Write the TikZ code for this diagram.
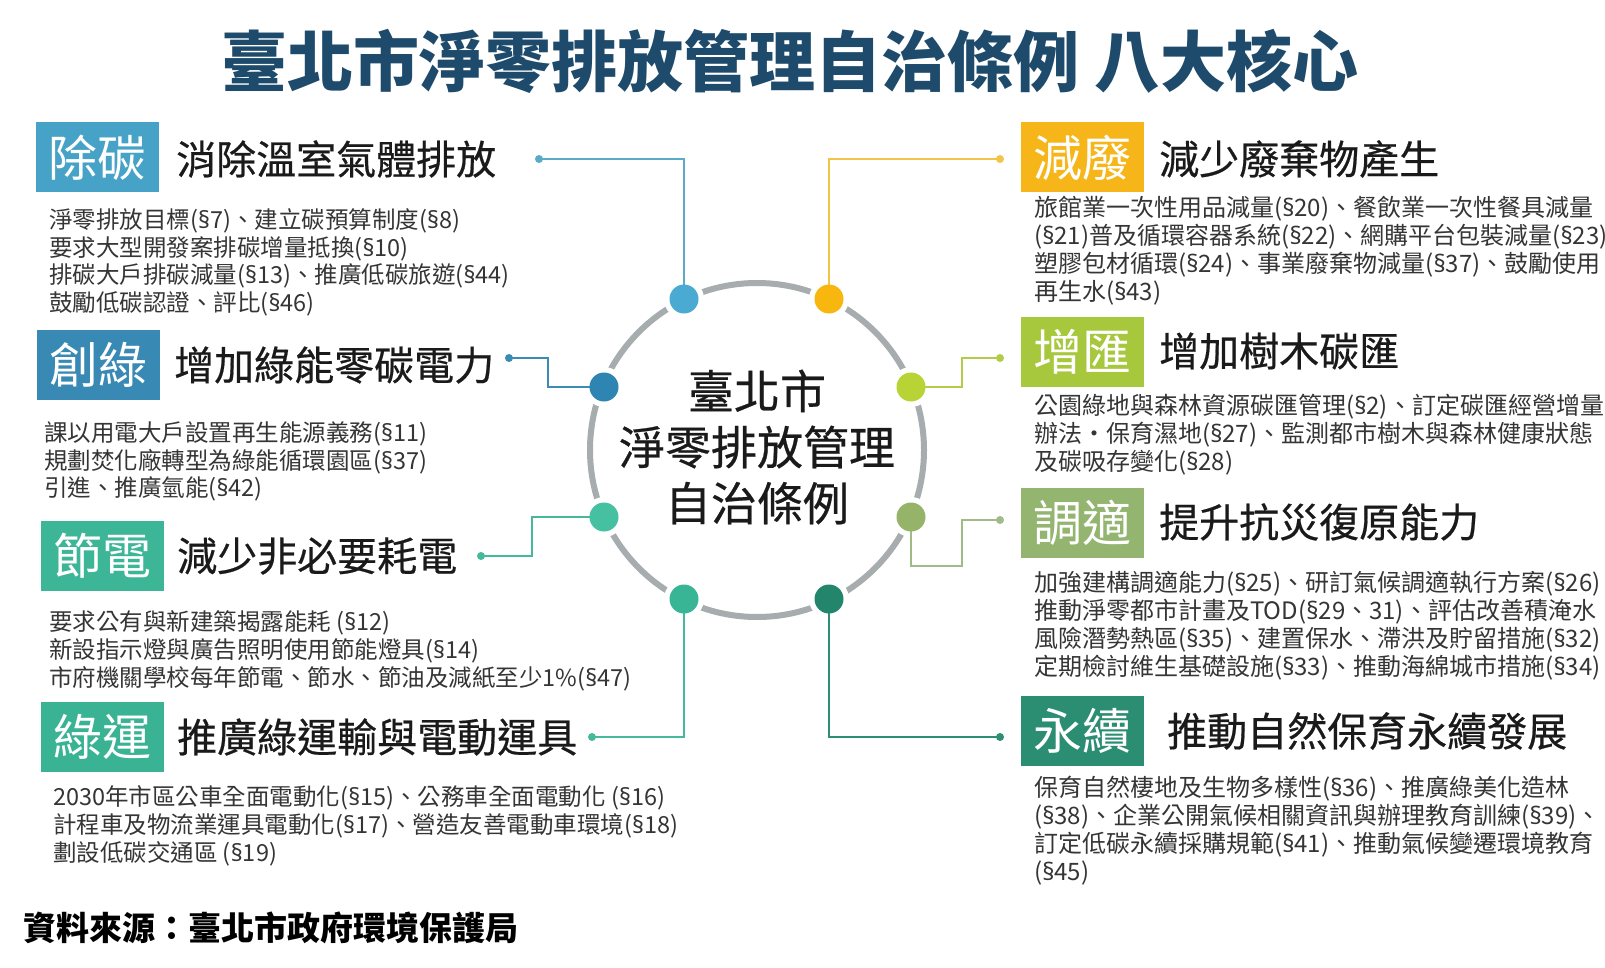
\documentclass[tikz,border=0pt]{standalone}
\usepackage{fontspec}
\setmainfont{Noto Sans CJK TC}
\newfontfamily\latinf{Noto Sans}
\newfontfamily\headf[FakeBold=0.5]{Noto Sans CJK TC}
\newcommand\sct{{\latinf §}}
\definecolor{titlec}{HTML}{1E4A6B}
\definecolor{headc}{HTML}{1A1A1A}
\definecolor{bodyc}{HTML}{353535}
\definecolor{ringc}{HTML}{A7ACAF}
\definecolor{cA}{HTML}{46A2C6}
\definecolor{cB}{HTML}{3889B3}
\definecolor{cC}{HTML}{3DB597}
\definecolor{cD}{HTML}{3AB395}
\definecolor{cE}{HTML}{F6B61A}
\definecolor{cF}{HTML}{A7C83D}
\definecolor{cG}{HTML}{93B570}
\definecolor{cH}{HTML}{2B8D72}
\definecolor{dA}{HTML}{4AAAD2}
\definecolor{dB}{HTML}{2E85B2}
\definecolor{dC}{HTML}{45C0A0}
\definecolor{dD}{HTML}{38B594}
\definecolor{dE}{HTML}{F7B70F}
\definecolor{dF}{HTML}{B8D336}
\definecolor{dG}{HTML}{95B46A}
\definecolor{dH}{HTML}{23866C}
\definecolor{lA}{HTML}{5AAAC8}
\definecolor{lB}{HTML}{3A8CB5}
\definecolor{lC}{HTML}{45B99B}
\definecolor{lD}{HTML}{45B99B}
\definecolor{lE}{HTML}{F2C448}
\definecolor{lF}{HTML}{B2CC48}
\definecolor{lG}{HTML}{A2BA88}
\definecolor{lH}{HTML}{2E8E74}
\begin{document}
\begin{tikzpicture}[x=1pt,y=-1pt,
  tagbox/.style={fill=#1, text=white, minimum width=123pt, minimum height=70pt, inner sep=0pt, font=\fontsize{49}{52}\selectfont},
  headtxt/.style={anchor=west, inner sep=0pt, text=headc, font=\headf\fontsize{40}{44}\selectfont},
  bodyL/.style={anchor=north west, inner sep=0pt, align=left, text=bodyc, font=\fontsize{23.5}{27.7}\selectfont},
  bodyR/.style={anchor=north west, inner sep=0pt, align=left, text=bodyc, font=\fontsize{24}{28}\selectfont},
  connline/.style={draw=#1, line width=2pt},
  endptdot/.style={circle, fill=#1, inner sep=0pt, minimum size=8pt},
  ringdot/.style={circle, fill=#1, inner sep=0pt, minimum size=29pt},
  ringgap/.style={circle, fill=white, inner sep=0pt, minimum size=40pt},
]
\useasboundingbox[fill=white] (0,0) rectangle (1605,968);

% title
\node[inner sep=0pt, text=titlec, font=\fontsize{66}{70}\selectfont\bfseries] (title) at (790,61) {臺北市淨零排放管理自治條例 八大核心};

% centre ring
\coordinate (ctr) at (757,450);
\node[circle, draw=ringc, line width=6pt, minimum size=334pt, inner sep=0pt] (ring) at (ctr) {};
\node[align=center, inner sep=0pt, text=headc, font=\headf\fontsize{46}{56}\selectfont] (ctext) at (757,447) {臺北市\\淨零排放管理\\自治條例};

% dot positions
\coordinate (p1) at (684,299);
\coordinate (p2) at (604,387);
\coordinate (p3) at (604,517);
\coordinate (p4) at (684,599);
\coordinate (p5) at (829,299);
\coordinate (p6) at (911,387);
\coordinate (p7) at (911,517);
\coordinate (p8) at (829,599);
\foreach \i in {1,...,8} {\node[ringgap] (g\i) at (p\i) {};}

% left blocks
\node[tagbox=cA] (t1) at (97.5,157.5) {除碳};
\node[headtxt] (h1) at (176,159) {消除溫室氣體排放};
\node[bodyL] (b1) at (49,208.5) {淨零排放目標(\sct7)、建立碳預算制度(\sct8)\\要求大型開發案排碳增量抵換(\sct10)\\排碳大戶排碳減量(\sct13)、推廣低碳旅遊(\sct44)\\鼓勵低碳認證、評比(\sct46)};

\node[tagbox=cB] (t2) at (98.5,364.5) {創綠};
\node[headtxt] (h2) at (174,365) {增加綠能零碳電力};
\node[bodyL] (b2) at (44,421.5) {課以用電大戶設置再生能源義務(\sct11)\\規劃焚化廠轉型為綠能循環園區(\sct37)\\引進、推廣氫能(\sct42)};

\node[tagbox=cC] (t3) at (102.5,556) {節電};
\node[headtxt] (h3) at (177,556) {減少非必要耗電};
\node[bodyL] (b3) at (49,610.5) {要求公有與新建築揭露能耗 (\sct12)\\新設指示燈與廣告照明使用節能燈具(\sct14)\\市府機關學校每年節電、節水、節油及減紙至少1\%(\sct47)};

\node[tagbox=cD] (t4) at (102.5,737) {綠運};
\node[headtxt] (h4) at (177,737) {推廣綠運輸與電動運具};
\node[bodyL] (b4) at (53,785.5) {2030年市區公車全面電動化(\sct15)、公務車全面電動化 (\sct16)\\計程車及物流業運具電動化(\sct17)、營造友善電動車環境(\sct18)\\劃設低碳交通區 (\sct19)};

% right blocks
\node[tagbox=cE] (t5) at (1082.5,157.5) {減廢};
\node[headtxt] (h5) at (1159,159) {減少廢棄物產生};
\node[bodyR] (b5) at (1034,196) {旅館業一次性用品減量(\sct20)、餐飲業一次性餐具減量\\(\sct21)普及循環容器系統(\sct22)、網購平台包裝減量(\sct23)\\塑膠包材循環(\sct24)、事業廢棄物減量(\sct37)、鼓勵使用\\再生水(\sct43)};

\node[tagbox=cF] (t6) at (1082.5,352) {增匯};
\node[headtxt] (h6) at (1159,351) {增加樹木碳匯};
\node[bodyR] (b6) at (1034,394) {公園綠地與森林資源碳匯管理(\sct2)、訂定碳匯經營增量\\辦法・保育濕地(\sct27)、監測都市樹木與森林健康狀態\\及碳吸存變化(\sct28)};

\node[tagbox=cG] (t7) at (1082.5,522.5) {調適};
\node[headtxt] (h7) at (1159,522) {提升抗災復原能力};
\node[bodyR] (b7) at (1034,571) {加強建構調適能力(\sct25)、研訂氣候調適執行方案(\sct26)、\\推動淨零都市計畫及TOD(\sct29、31)、評估改善積淹水\\風險潛勢熱區(\sct35)、建置保水、滯洪及貯留措施(\sct32)、\\定期檢討維生基礎設施(\sct33)、推動海綿城市措施(\sct34)};

\node[tagbox=cH] (t8) at (1082.5,731) {永續};
\node[headtxt] (h8) at (1167,731) {推動自然保育永續發展};
\node[bodyR] (b8) at (1034,776) {保育自然棲地及生物多樣性(\sct36)、推廣綠美化造林\\(\sct38)、企業公開氣候相關資訊與辦理教育訓練(\sct39)、\\訂定低碳永續採購規範(\sct41)、推動氣候變遷環境教育\\(\sct45)};

% source
\node[anchor=west, inner sep=0pt, text=black, font=\fontsize{33}{36}\selectfont\bfseries] (src) at (23,928) {資料來源：臺北市政府環境保護局};

% connector end points
\coordinate (e1) at (539,159);
\coordinate (e2) at (509,358);
\coordinate (e3) at (481,556);
\coordinate (e4) at (592,737);
\coordinate (e5) at (1000,159);
\coordinate (e6) at (1000,358);
\coordinate (e7) at (1000,520);
\coordinate (e8) at (1000,737);

% connectors
\draw[connline=lA] (e1) -| (p1);
\draw[connline=lB] (e2) -- ++(39,0) |- (p2);
\draw[connline=lC] (e3) -- ++(51,0) |- (p3);
\draw[connline=lD] (e4) -| (p4);
\draw[connline=lE] (e5) -| (p5);
\draw[connline=lF] (e6) -- ++(-38,0) |- (p6);
\draw[connline=lG] (e7) -- ++(-38,0) -- ++(0,46) -| (p7);
\draw[connline=lH] (e8) -| (p8);

\node[endptdot=lA] (ee1) at (e1) {};
\node[endptdot=lB] (ee2) at (e2) {};
\node[endptdot=lC] (ee3) at (e3) {};
\node[endptdot=lD] (ee4) at (e4) {};
\node[endptdot=lE] (ee5) at (e5) {};
\node[endptdot=lF] (ee6) at (e6) {};
\node[endptdot=lG] (ee7) at (e7) {};
\node[endptdot=lH] (ee8) at (e8) {};

% ring dots
\node[ringdot=dA] (d1) at (p1) {};
\node[ringdot=dB] (d2) at (p2) {};
\node[ringdot=dC] (d3) at (p3) {};
\node[ringdot=dD] (d4) at (p4) {};
\node[ringdot=dE] (d5) at (p5) {};
\node[ringdot=dF] (d6) at (p6) {};
\node[ringdot=dG] (d7) at (p7) {};
\node[ringdot=dH] (d8) at (p8) {};
\end{tikzpicture}
\end{document}
